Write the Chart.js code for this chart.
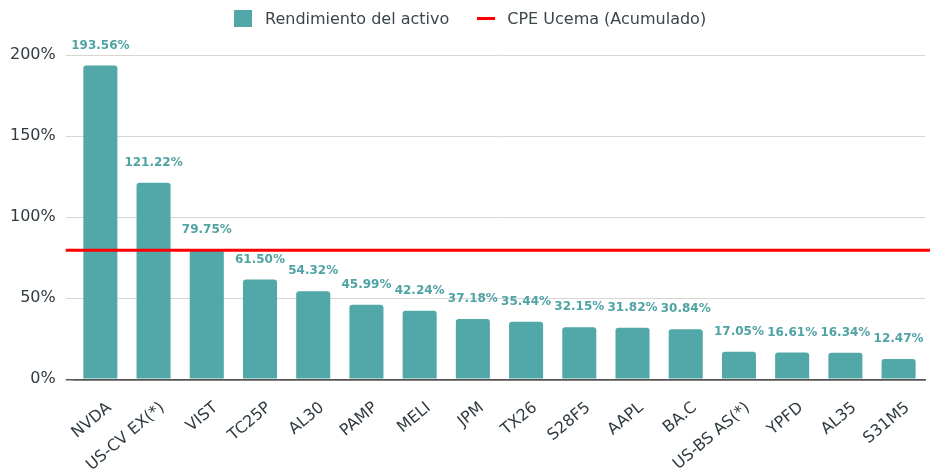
<!DOCTYPE html>
<html>
<head>
<meta charset="utf-8">
<script src="https://cdn.jsdelivr.net/npm/chart.js@4"></script>
<style>
  html, body { margin: 0; padding: 0; background: #fff; overflow: hidden; }
  #wrap { width: 930px; height: 475px; position: relative; }
  #leyenda {
    position: absolute; top: 9px; left: 234px;
    display: flex; align-items: center;
    font: 16px 'DejaVu Sans', Verdana, sans-serif; color: #3a4649;
    white-space: nowrap;
  }
  .item { display: flex; align-items: center; margin-right: 28px; }
  .item span.caja { display: inline-block; width: 18px; height: 17px; margin-right: 13px; }
  .item span.linea { display: inline-block; width: 18px; height: 3px; margin-right: 12px; }
</style>
</head>
<body>
<div id="wrap">
  <canvas id="chart"></canvas>
  <div id="leyenda"></div>
</div>
<script>
// Datos
const activos = ["NVDA", "US-CV EX(*)", "VIST", "TC25P", "AL30", "PAMP", "MELI", "JPM",
  "TX26", "S28F5", "AAPL", "BA.C", "US-BS AS(*)", "YPFD", "AL35", "S31M5"];
const rendimiento = [193.56, 121.22, 79.75, 61.50, 54.32, 45.99, 42.24, 37.18,
  35.44, 32.15, 31.82, 30.84, 17.05, 16.61, 16.34, 12.47];
const cpeUcema = 79.6;
const yTicks = [0, 50, 100, 150, 200];

const series = [
  { label: "Rendimiento del activo", color: "#52a7a8", tipo: "barra" },
  { label: "CPE Ucema (Acumulado)", color: "#ff0000", tipo: "linea" },
];

const TEXT = "#2f3b40";
const FONT = "'DejaVu Sans', Verdana, sans-serif";

// etiquetas encima de cada barra
const etiquetasBarras = {
  id: "etiquetasBarras",
  afterDatasetsDraw(chart) {
    const ctx = chart.ctx;
    const meta = chart.getDatasetMeta(0);
    ctx.save();
    ctx.font = "bold 12px " + FONT;
    ctx.fillStyle = "#4fa3a4";
    ctx.textAlign = "center";
    ctx.textBaseline = "middle";
    meta.data.forEach((bar, i) => {
      ctx.fillText(rendimiento[i].toFixed(2) + "%", bar.x, bar.y - 20);
    });
    ctx.restore();
  },
};

// linea horizontal de la CPE, a lo ancho del grafico
const lineaCPE = {
  id: "lineaCPE",
  afterDatasetsDraw(chart) {
    const { ctx, chartArea, scales } = chart;
    const y = scales.y.getPixelForValue(cpeUcema);
    ctx.save();
    ctx.strokeStyle = series[1].color;
    ctx.lineWidth = 3;
    ctx.beginPath();
    ctx.moveTo(chartArea.left - 8, y);
    ctx.lineTo(chart.width, y);
    ctx.stroke();
    ctx.restore();
  },
};

const chart = new Chart(document.getElementById("chart"), {
  type: "bar",
  data: {
    labels: activos,
    datasets: [
      {
        label: series[0].label,
        data: rendimiento,
        backgroundColor: series[0].color,
        borderWidth: 0,
        borderRadius: { topLeft: 3, topRight: 3 },
        borderSkipped: "bottom",
        categoryPercentage: 0.8,
        barPercentage: 0.8,
      },
    ],
  },
  options: {
    responsive: true,
    maintainAspectRatio: false,
    animation: false,
    layout: { padding: { top: 55, right: 2, left: 0, bottom: 0 } },
    plugins: {
      legend: { display: false },
      tooltip: { enabled: false },
    },
    scales: {
      x: {
        offset: true,
        grid: { display: false, drawTicks: false },
        border: { color: "#555", width: 1.5 },
        // el alto calculado para etiquetas giradas es mayor que el real
        afterFit: (axis) => {
          axis.height -= 19;
        },
        ticks: {
          color: TEXT,
          font: { family: FONT, size: 16 },
          minRotation: 40,
          maxRotation: 40,
          autoSkip: false,
          padding: 19,
          labelOffset: 9,
        },
      },
      y: {
        min: 0,
        max: 200,
        afterBuildTicks: (axis) => {
          axis.ticks = yTicks.map((v) => ({ value: v }));
        },
        grid: {
          color: (c) => (c.tick && c.tick.value === 0 ? "#555" : "#d6d6d6"),
          lineWidth: (c) => (c.tick && c.tick.value === 0 ? 1.5 : 1),
          tickLength: 8,
        },
        border: { display: false },
        ticks: {
          color: TEXT,
          font: { family: FONT, size: 16 },
          padding: 10,
          callback: (v) => v + "%",
        },
      },
    },
  },
  plugins: [etiquetasBarras, lineaCPE],
});

// leyenda en HTML
const leyenda = document.getElementById("leyenda");
series.forEach((s) => {
  const item = document.createElement("div");
  item.className = "item";
  const marca = document.createElement("span");
  marca.className = s.tipo === "linea" ? "linea" : "caja";
  marca.style.background = s.color;
  const texto = document.createElement("span");
  texto.textContent = s.label;
  item.appendChild(marca);
  item.appendChild(texto);
  leyenda.appendChild(item);
});
</script>
</body>
</html>
